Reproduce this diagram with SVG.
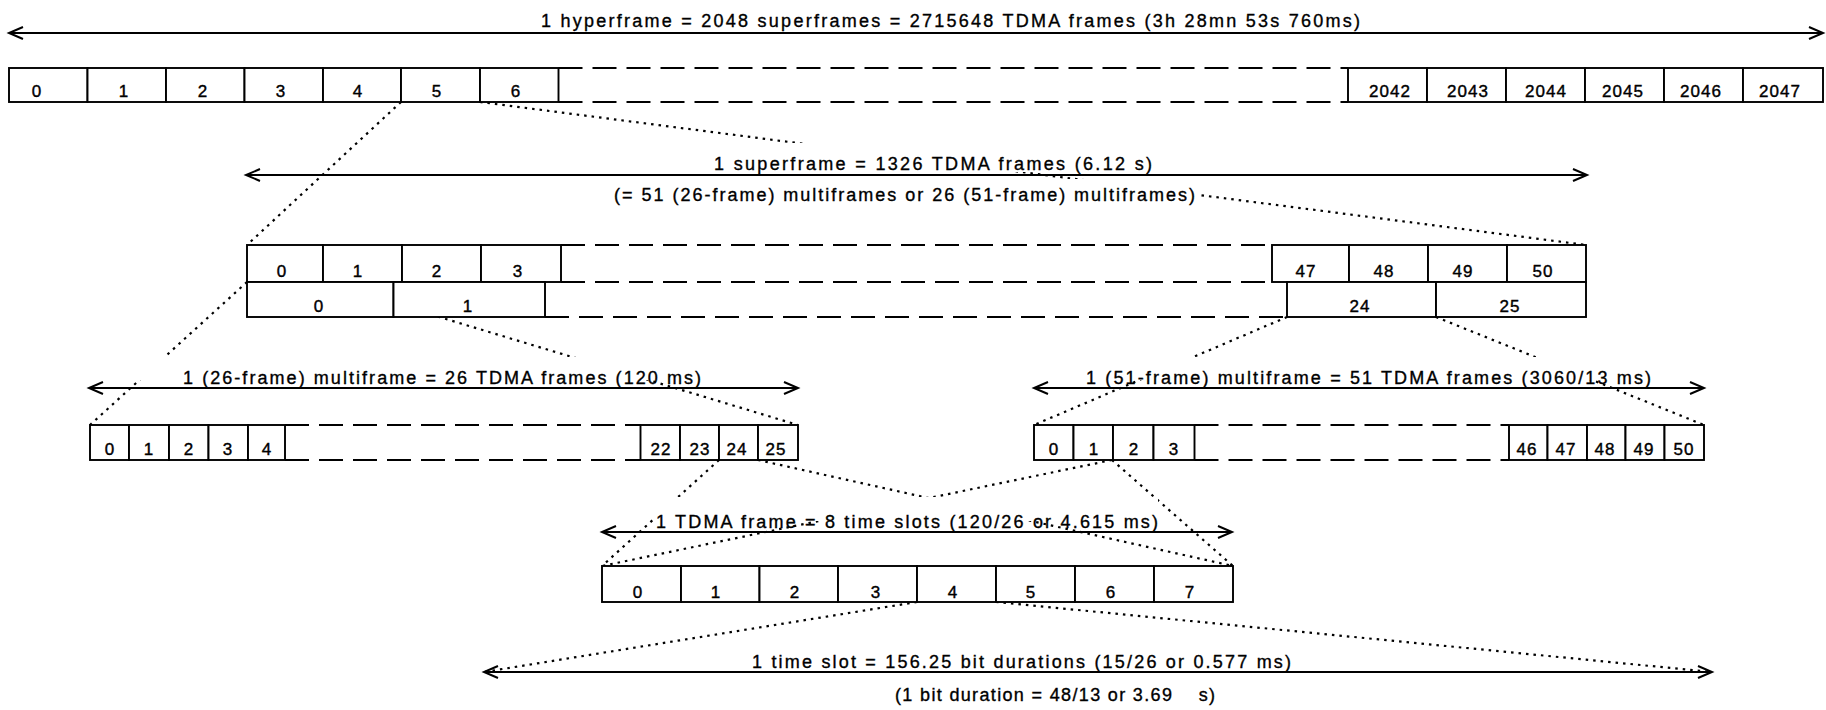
<svg xmlns="http://www.w3.org/2000/svg" width="1826" height="710" viewBox="0 0 1826 710">
<style>
.cell rect{fill:#fff;stroke:#000;stroke-width:1.9}
.num{font-family:"Liberation Sans Narrow","Liberation Sans",Arial,sans-serif;font-size:17px;fill:#000;stroke:#000;stroke-width:0.4;text-anchor:middle;letter-spacing:1px}
.lbl{font-family:"Liberation Sans Narrow","Liberation Sans",Arial,sans-serif;font-size:18px;fill:#000;stroke:#000;stroke-width:0.35}
.dash{fill:none;stroke:#000;stroke-width:2;stroke-dasharray:24 10}
.dot{fill:none;stroke:#000;stroke-width:2.2;stroke-dasharray:2.5 5}
.arrow{fill:none;stroke:#000;stroke-width:1.9;marker-start:url(#ah);marker-end:url(#ah)}
.bg{fill:#fff;stroke:none}
</style>
<defs>
<marker id="ah" markerUnits="userSpaceOnUse" markerWidth="20" markerHeight="16" refX="15" refY="7" orient="auto-start-reverse" viewBox="0 0 20 16">
<path d="M1,1 L15,7 L1,13" fill="none" stroke="#000" stroke-width="2"/>
</marker>
</defs>
<rect width="1826" height="710" fill="#fff"/>

<g id="connectors">
<path class="dot" d="M401,102 L247,245"/>
<path class="dot" d="M480,102 L1586,245"/>
<path class="dot" d="M247,282 L90,425"/>
<path class="dot" d="M323,282 L798,425"/>
<path class="dot" d="M1287,317 L1034,425"/>
<path class="dot" d="M1436,317 L1704,425"/>
<path class="dot" d="M719,460 L602,566"/>
<path class="dot" d="M758,460 L1233,566"/>
<path class="dot" d="M1112,460 L602,566"/>
<path class="dot" d="M1112,460 L1233,566"/>
<path class="dot" d="M917,602 L484,672"/>
<path class="dot" d="M996,602 L1712,672"/>
</g>

<g id="label-backgrounds">
<rect class="bg" x="700" y="143" width="465" height="29"/>
<rect class="bg" x="605" y="179" width="595" height="29"/>
<rect class="bg" x="100" y="357" width="690" height="23"/>
<rect class="bg" x="1040" y="357" width="655" height="23"/>
<rect class="bg" x="655" y="497" width="503" height="24"/>
</g>

<g id="hyperframe">
<text class="lbl" x="541" y="27" textLength="819" lengthAdjust="spacing">1 hyperframe = 2048 superframes = 2715648 TDMA frames (3h 28mn 53s 760ms)</text>
<line class="arrow" x1="9" y1="33" x2="1823" y2="33"/>
<path class="dash" d="M558.5,68 H1348 M558.5,102 H1348"/>
<g id="hf-0" class="cell"><rect x="9" y="68" width="78.5" height="34"/><text class="num" x="37" y="97">0</text></g>
<g id="hf-1" class="cell"><rect x="87.5" y="68" width="78.5" height="34"/><text class="num" x="124" y="97">1</text></g>
<g id="hf-2" class="cell"><rect x="166" y="68" width="78.5" height="34"/><text class="num" x="203" y="97">2</text></g>
<g id="hf-3" class="cell"><rect x="244.5" y="68" width="78.5" height="34"/><text class="num" x="281" y="97">3</text></g>
<g id="hf-4" class="cell"><rect x="323" y="68" width="78" height="34"/><text class="num" x="358" y="97">4</text></g>
<g id="hf-5" class="cell"><rect x="401" y="68" width="79" height="34"/><text class="num" x="437" y="97">5</text></g>
<g id="hf-6" class="cell"><rect x="480" y="68" width="78.5" height="34"/><text class="num" x="516" y="97">6</text></g>
<g id="hf-2042" class="cell"><rect x="1348" y="68" width="79" height="34"/><text class="num" x="1390" y="97">2042</text></g>
<g id="hf-2043" class="cell"><rect x="1427" y="68" width="79" height="34"/><text class="num" x="1468" y="97">2043</text></g>
<g id="hf-2044" class="cell"><rect x="1506" y="68" width="79" height="34"/><text class="num" x="1546" y="97">2044</text></g>
<g id="hf-2045" class="cell"><rect x="1585" y="68" width="79" height="34"/><text class="num" x="1623" y="97">2045</text></g>
<g id="hf-2046" class="cell"><rect x="1664" y="68" width="79" height="34"/><text class="num" x="1701" y="97">2046</text></g>
<g id="hf-2047" class="cell"><rect x="1743" y="68" width="80" height="34"/><text class="num" x="1780" y="97">2047</text></g>
</g>

<g id="superframe">
<text class="lbl" x="714" y="170" textLength="438" lengthAdjust="spacing">1 superframe = 1326 TDMA frames (6.12 s)</text>
<line class="arrow" x1="246" y1="175" x2="1587" y2="175"/>
<text class="lbl" x="614" y="201" textLength="581" lengthAdjust="spacing">(= 51 (26-frame) multiframes or 26 (51-frame) multiframes)</text>
<path class="dash" d="M561,245 H1272 M561,282 H1272 M545,317 H1287"/>
<g id="sf26-0" class="cell"><rect x="247" y="245" width="76" height="37"/><text class="num" x="282" y="277">0</text></g>
<g id="sf26-1" class="cell"><rect x="323" y="245" width="79" height="37"/><text class="num" x="358" y="277">1</text></g>
<g id="sf26-2" class="cell"><rect x="402" y="245" width="79" height="37"/><text class="num" x="437" y="277">2</text></g>
<g id="sf26-3" class="cell"><rect x="481" y="245" width="80" height="37"/><text class="num" x="518" y="277">3</text></g>
<g id="sf26-47" class="cell"><rect x="1272" y="245" width="77" height="37"/><text class="num" x="1306" y="277">47</text></g>
<g id="sf26-48" class="cell"><rect x="1349" y="245" width="79" height="37"/><text class="num" x="1384" y="277">48</text></g>
<g id="sf26-49" class="cell"><rect x="1428" y="245" width="79" height="37"/><text class="num" x="1463" y="277">49</text></g>
<g id="sf26-50" class="cell"><rect x="1507" y="245" width="79" height="37"/><text class="num" x="1543" y="277">50</text></g>
<g id="sf51-0" class="cell"><rect x="247" y="282" width="146.5" height="35"/><text class="num" x="319" y="312">0</text></g>
<g id="sf51-1" class="cell"><rect x="393.5" y="282" width="151.5" height="35"/><text class="num" x="468" y="312">1</text></g>
<g id="sf51-24" class="cell"><rect x="1287" y="282" width="149" height="35"/><text class="num" x="1360" y="312">24</text></g>
<g id="sf51-25" class="cell"><rect x="1436" y="282" width="150" height="35"/><text class="num" x="1510" y="312">25</text></g>
</g>

<g id="multiframe26">
<text class="lbl" x="183" y="384" textLength="518" lengthAdjust="spacing">1 (26-frame) multiframe = 26 TDMA frames (120 ms)</text>
<line class="arrow" x1="89" y1="388" x2="798" y2="388"/>
<path class="dash" d="M285,425 H640.5 M285,460 H640.5"/>
<g id="mf26-0" class="cell"><rect x="90" y="425" width="39" height="35"/><text class="num" x="110" y="455">0</text></g>
<g id="mf26-1" class="cell"><rect x="129" y="425" width="40" height="35"/><text class="num" x="149" y="455">1</text></g>
<g id="mf26-2" class="cell"><rect x="169" y="425" width="39.5" height="35"/><text class="num" x="189" y="455">2</text></g>
<g id="mf26-3" class="cell"><rect x="208.5" y="425" width="39.5" height="35"/><text class="num" x="228" y="455">3</text></g>
<g id="mf26-4" class="cell"><rect x="248" y="425" width="37" height="35"/><text class="num" x="267" y="455">4</text></g>
<g id="mf26-22" class="cell"><rect x="640.5" y="425" width="39.5" height="35"/><text class="num" x="661" y="455">22</text></g>
<g id="mf26-23" class="cell"><rect x="680" y="425" width="39" height="35"/><text class="num" x="700" y="455">23</text></g>
<g id="mf26-24" class="cell"><rect x="719" y="425" width="39" height="35"/><text class="num" x="737" y="455">24</text></g>
<g id="mf26-25" class="cell"><rect x="758" y="425" width="40" height="35"/><text class="num" x="776" y="455">25</text></g>
</g>

<g id="multiframe51">
<text class="lbl" x="1086" y="384" textLength="565" lengthAdjust="spacing">1 (51-frame) multiframe = 51 TDMA frames (3060/13 ms)</text>
<line class="arrow" x1="1034" y1="388" x2="1704" y2="388"/>
<path class="dash" d="M1194.5,425 H1509 M1194.5,460 H1509"/>
<g id="mf51-0" class="cell"><rect x="1034" y="425" width="39.5" height="35"/><text class="num" x="1054" y="455">0</text></g>
<g id="mf51-1" class="cell"><rect x="1073.5" y="425" width="39.5" height="35"/><text class="num" x="1094" y="455">1</text></g>
<g id="mf51-2" class="cell"><rect x="1113" y="425" width="40.5" height="35"/><text class="num" x="1134" y="455">2</text></g>
<g id="mf51-3" class="cell"><rect x="1153.5" y="425" width="41" height="35"/><text class="num" x="1174" y="455">3</text></g>
<g id="mf51-46" class="cell"><rect x="1509" y="425" width="38.5" height="35"/><text class="num" x="1527" y="455">46</text></g>
<g id="mf51-47" class="cell"><rect x="1547.5" y="425" width="39.5" height="35"/><text class="num" x="1566" y="455">47</text></g>
<g id="mf51-48" class="cell"><rect x="1587" y="425" width="38.5" height="35"/><text class="num" x="1605" y="455">48</text></g>
<g id="mf51-49" class="cell"><rect x="1625.5" y="425" width="39" height="35"/><text class="num" x="1644" y="455">49</text></g>
<g id="mf51-50" class="cell"><rect x="1664.5" y="425" width="39.5" height="35"/><text class="num" x="1684" y="455">50</text></g>
</g>

<g id="tdma-frame">
<text class="lbl" x="656" y="528" textLength="502" lengthAdjust="spacing">1 TDMA frame = 8 time slots (120/26 or 4.615 ms)</text>
<line class="arrow" x1="602" y1="532" x2="1232" y2="532"/>
<g id="ts-0" class="cell"><rect x="602" y="566" width="79" height="36"/><text class="num" x="638" y="598">0</text></g>
<g id="ts-1" class="cell"><rect x="681" y="566" width="78.5" height="36"/><text class="num" x="716" y="598">1</text></g>
<g id="ts-2" class="cell"><rect x="759.5" y="566" width="78.5" height="36"/><text class="num" x="795" y="598">2</text></g>
<g id="ts-3" class="cell"><rect x="838" y="566" width="79" height="36"/><text class="num" x="876" y="598">3</text></g>
<g id="ts-4" class="cell"><rect x="917" y="566" width="79" height="36"/><text class="num" x="953" y="598">4</text></g>
<g id="ts-5" class="cell"><rect x="996" y="566" width="79" height="36"/><text class="num" x="1031" y="598">5</text></g>
<g id="ts-6" class="cell"><rect x="1075" y="566" width="79" height="36"/><text class="num" x="1111" y="598">6</text></g>
<g id="ts-7" class="cell"><rect x="1154" y="566" width="79" height="36"/><text class="num" x="1190" y="598">7</text></g>
</g>

<g id="time-slot">
<text class="lbl" x="752" y="668" textLength="539" lengthAdjust="spacing">1 time slot = 156.25 bit durations (15/26 or 0.577 ms)</text>
<line class="arrow" x1="484" y1="672" x2="1712" y2="672"/>
<text class="lbl" x="895" y="701" textLength="320" lengthAdjust="spacing" xml:space="preserve">(1 bit duration = 48/13 or 3.69    s)</text>
</g>
</svg>
